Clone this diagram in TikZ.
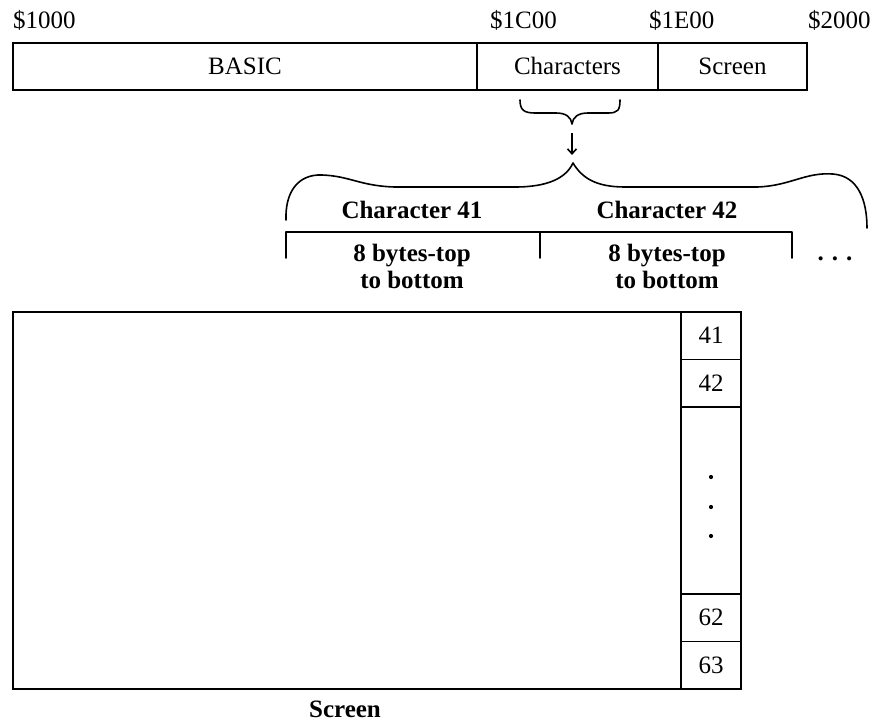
\documentclass[tikz,border=0pt]{standalone}
\usepackage{fontspec}
\setmainfont{Liberation Serif}
\usepackage{tikz}
\usetikzlibrary{arrows.meta,positioning}
\newcommand{\bigtext}{\fontsize{25}{27}\selectfont}
\tikzset{
  memcell/.style={draw,line width=1.6pt,minimum height=47pt,inner sep=0pt,
    outer sep=0pt,text height=18pt,text depth=2pt,font=\bigtext},
  addr/.style={inner sep=0pt,anchor=base west,font=\bigtext},
  charhead/.style={inner sep=0pt,font=\bigtext\bfseries},
  bytenote/.style={inner sep=0pt,align=center,font=\bigtext\bfseries},
  screenbox/.style={draw,line width=1.6pt,inner sep=0pt,outer sep=0pt,
    minimum width=668pt,minimum height=377pt},
  rowcell/.style={draw,line width=1.6pt,inner sep=0pt,outer sep=0pt,
    minimum width=60pt,minimum height=47.5pt,text height=18pt,text depth=2pt,
    font=\bigtext},
  bracket/.style={line width=1.6pt,line cap=round,line join=round},
  flow/.style={-{Straight Barb[length=5pt,width=9pt]},line width=1.6pt}
}

\begin{document}
\begin{tikzpicture}[x=1pt,y=-1pt]
  \useasboundingbox (0,0) rectangle (873,724);
  % memory map
  \node[memcell,minimum width=464pt,anchor=north west] (basic) at (13,43) {BASIC};
  \node[memcell,minimum width=181pt,right=0pt of basic] (chars) {Characters};
  \node[memcell,minimum width=149pt,right=0pt of chars] (scr) {Screen};
  \node[addr] (a1000) at (13,28) {\$1000};
  \node[addr] (a1c00) at (490,28) {\$1C00};
  \node[addr] (a1e00) at (649,28) {\$1E00};
  \node[addr] (a2000) at (808,28) {\$2000};

  % small brace under Characters
  \draw[bracket] (520,100) .. controls (520,110) and (524,113) .. (535,113)
    -- (556,113) .. controls (566,113) and (571,117) .. (572,124)
    .. controls (573,117) and (578,113) .. (588,113)
    -- (608,113) .. controls (618,113) and (620,110) .. (620,100);
  \coordinate (arrtop) at (572,133);
  \coordinate (arrbot) at (572,155);
  \draw[flow] (arrtop) -- (arrbot);

  % big brace over the two characters
  \draw[bracket] (286,220) .. controls (285,192) and (298,174) .. (322,175)
    .. controls (350,176) and (360,186) .. (395,187)
    -- (515,187) .. controls (548,187) and (566,178) .. (573,163)
    .. controls (582,178) and (596,187) .. (625,187)
    -- (757,187) .. controls (790,186) and (805,172) .. (833,174)
    .. controls (858,176) and (867,200) .. (867,228);

  \node[charhead] (ch41) at (412,210) {Character 41};
  \node[charhead] (ch42) at (667,210) {Character 42};

  % byte groups
  \draw[bracket] (286,258) -- (286,232) -- (792,232) -- (792,258);
  \draw[bracket] (540,232) -- (540,258);
  \node[bytenote] (b41) at (412,266) {8 bytes-top\\to bottom};
  \node[bytenote] (b42) at (667,266) {8 bytes-top\\to bottom};
  \node[inner sep=0pt,anchor=base,font=\bigtext\bfseries] (more) at (835,260)
    {.\hspace{8pt}.\hspace{8pt}.};

  % screen and its last column
  \node[screenbox,anchor=north west] (screen) at (13,312) {};
  \node[rowcell,anchor=north west] (c41) at (screen.north east) {41};
  \node[rowcell,below=0pt of c41] (c42) {42};
  \node[rowcell,anchor=south west] (c63) at (screen.south east) {63};
  \node[rowcell,above=0pt of c63] (c62) {62};
  \draw[line width=1.6pt] (c42.south east) -- (c62.north east);
  \foreach \y in {477,507,536}
    \fill (711,\y) circle (2.1pt);
  \node[inner sep=0pt,anchor=base,font=\bigtext\bfseries] (scrlabel) at (345,717) {Screen};
\end{tikzpicture}
\end{document}
